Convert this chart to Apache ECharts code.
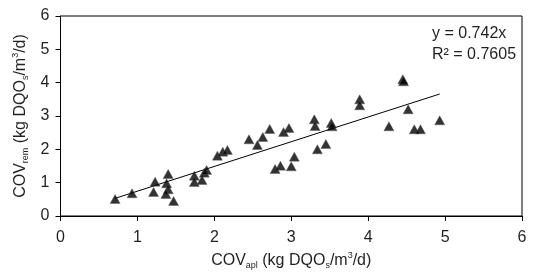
<!DOCTYPE html>
<html>
<head>
<meta charset="utf-8">
<script src="https://cdn.jsdelivr.net/npm/echarts@6/dist/echarts.min.js"></script>
<style>
html, body { margin: 0; padding: 0; background: #fff; }
#chart { width: 549px; height: 275px; }
</style>
</head>
<body>
<div id="chart"></div>
<script>
// COV aplicada (x) vs COV removida (y)
const covApl = [0.71, 0.93, 1.23, 1.21, 1.40, 1.38, 1.40, 1.37, 1.47, 1.74,
    1.74, 1.84, 1.87, 1.90, 2.04, 2.11, 2.17, 2.45, 2.56, 2.63,
    2.72, 2.90, 2.97, 2.79, 2.86, 3.00, 3.04, 3.30, 3.31, 3.34,
    3.45, 3.52, 3.53, 3.89, 3.89, 4.27, 4.45, 4.46, 4.52, 4.60,
    4.68, 4.93];
const covRem = [0.51, 0.68, 1.03, 0.72, 1.26, 0.98, 0.80, 0.66, 0.45, 1.21,
    1.02, 1.08, 1.30, 1.38, 1.81, 1.93, 1.98, 2.30, 2.13, 2.37,
    2.61, 2.52, 2.64, 1.41, 1.51, 1.49, 1.78, 2.90, 2.70, 2.00,
    2.16, 2.79, 2.69, 3.50, 3.32, 2.69, 4.10, 4.04, 3.20, 2.60,
    2.60, 2.87];
// linear trend line endpoints (y = 0.742x)
const trendX = [0.71, 4.93];
const trendY = [0.53, 3.66];
const axisTicks = [0, 1, 2, 3, 4, 5, 6];
const fitText = ['y = 0.742x', 'R\u00b2 = 0.7605'];

const font = '"Liberation Sans", Arial, sans-serif';
const ink = '#231f20';

const chart = echarts.init(document.getElementById('chart'));

const nameRich = {
    a: { fontSize: 16, lineHeight: 19, color: ink, fontFamily: font },
    s: { fontSize: 9, lineHeight: 9, verticalAlign: 'bottom', color: ink, fontFamily: font },
    p: { fontSize: 9, lineHeight: 10, verticalAlign: 'top', color: ink, fontFamily: font }
};

const axisCommon = {
    min: axisTicks[0],
    max: axisTicks[axisTicks.length - 1],
    interval: 1,
    splitLine: { show: false },
    axisLine: { show: true, onZero: false, lineStyle: { color: '#000', width: 1 } },
    axisTick: { show: true, inside: false, length: 5, lineStyle: { color: '#000' } },
    axisLabel: { color: ink, fontSize: 16, fontFamily: font },
    nameLocation: 'middle'
};

chart.setOption({
    animation: false,
    grid: {
        left: 60.5, right: 27, top: 16, bottom: 59,
        show: true, borderColor: '#000', borderWidth: 1
    },
    xAxis: Object.assign({}, axisCommon, {
        type: 'value',
        name: '{a|COV}{s|apl}{a| (kg DQO}{s|s}{a|/m}{p|3}{a|/d)}',
        nameGap: 34,
        nameTextStyle: { rich: nameRich },
        axisLabel: Object.assign({}, axisCommon.axisLabel, { margin: 14 })
    }),
    yAxis: Object.assign({}, axisCommon, {
        type: 'value',
        name: '{a|COV}{s|rem}{a| (kg DQO}{s|s}{a|/m}{p|3}{a|/d)}',
        nameGap: 17,
        nameRotate: 90,
        nameTextStyle: { rich: nameRich },
        axisLabel: Object.assign({}, axisCommon.axisLabel, { margin: 11 })
    }),
    graphic: [{
        type: 'text',
        left: 432,
        top: 23,
        style: {
            text: fitText.join('\n'),
            font: '16px ' + font,
            lineHeight: 21,
            fill: ink
        }
    }],
    series: [
        {
            type: 'line',
            data: trendX.map((x, i) => [x, trendY[i]]),
            symbol: 'none',
            lineStyle: { color: '#000', width: 1 },
            z: 2
        },
        {
            type: 'scatter',
            data: covApl.map((x, i) => [x, covRem[i]]),
            symbol: 'triangle',
            symbolSize: [10, 9],
            itemStyle: { color: '#000', borderColor: '#555', borderWidth: 0.5 },
            z: 3
        }
    ]
});
</script>
</body>
</html>
